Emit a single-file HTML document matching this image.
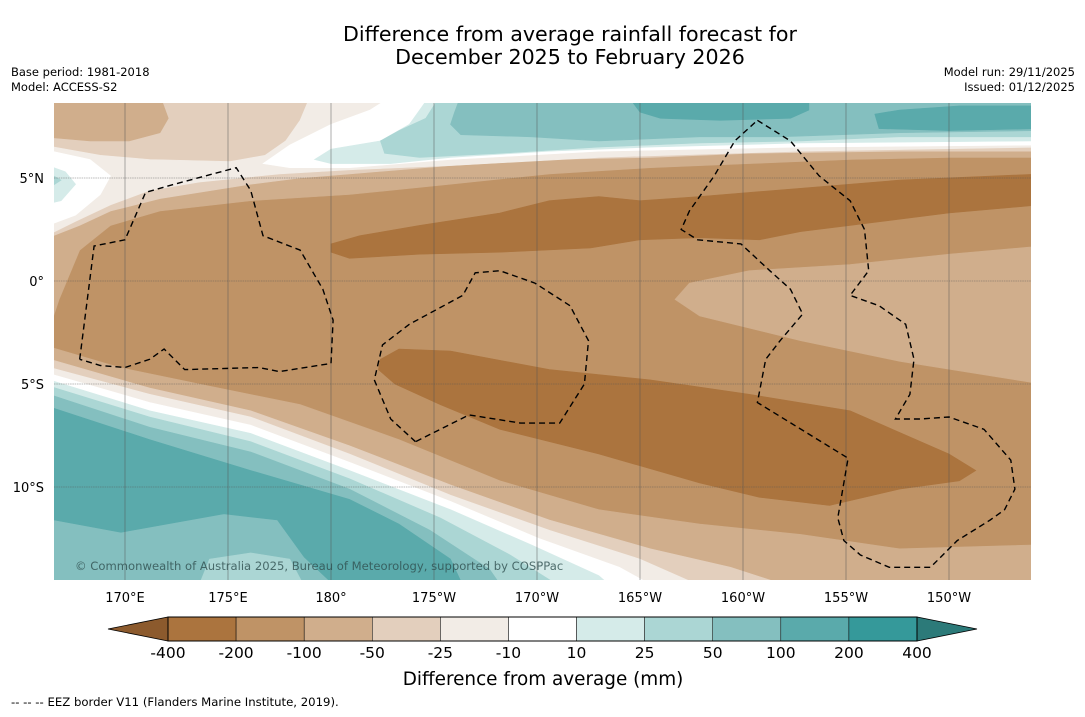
<!DOCTYPE html>
<html><head><meta charset="utf-8"><style>
html,body{margin:0;padding:0;background:#fff;}
body{width:1085px;height:713px;overflow:hidden;font-family:"DejaVu Sans","Liberation Sans",sans-serif;}
</style></head><body>
<svg id="fig" width="1085" height="713" viewBox="0 0 1085 713" xmlns="http://www.w3.org/2000/svg" font-family="DejaVu Sans, Liberation Sans, sans-serif">
  <text x="570" y="41" font-size="20.6" text-anchor="middle" fill="#000">Difference from average rainfall forecast for</text>
  <text x="570" y="64" font-size="20.6" text-anchor="middle" fill="#000">December 2025 to February 2026</text>
  <text x="11" y="76" font-size="11.5" fill="#000">Base period: 1981-2018</text>
  <text x="11" y="91" font-size="11.5" fill="#000">Model: ACCESS-S2</text>
  <text x="1075" y="76" font-size="11.5" text-anchor="end" fill="#000">Model run: 29/11/2025</text>
  <text x="1075" y="91" font-size="11.5" text-anchor="end" fill="#000">Issued: 01/12/2025</text>
  <defs><clipPath id="mapclip"><rect x="54" y="103" width="977" height="477"/></clipPath></defs>
  <g id="map" clip-path="url(#mapclip)"></g>
  <g id="axes"></g>
  <g id="cbar"></g>
  <text x="543" y="685" font-size="18.4" text-anchor="middle" fill="#000">Difference from average (mm)</text>
  <text x="11" y="706" font-size="11.7" fill="#000">--  --  -- EEZ border V11 (Flanders Marine Institute, 2019).</text>
</svg>
<script>
// ---- data ----
const levels = [-400,-200,-100,-50,-25,-10,10,25,50,100,200,400];
const levelLabels = ["-400","-200","-100","-50","-25","-10","10","25","50","100","200","400"];
const bandColors = ["#ab743e","#bf9366","#d0ae8c","#e3cfbd","#f2ece6","#ffffff","#d5ebe9","#abd6d4","#84bfbf","#5aaaab","#35999a"];
const extendLow = "#8c5a2d", extendHigh = "#2c7a79";
const lonTicks = [170,175,180,185,190,195,200,205,210];
const lonTickLabels = ["170°E","175°E","180°","175°W","170°W","165°W","160°W","155°W","150°W"];
const latTicks = [5,0,-5,-10];
const latTickLabels = ["5°N","0°","5°S","10°S"];
// filled contour regions: colour band index per ring, and [lon,lat] rings
const contourBand = [1,2,3,2,4,5,5,6,6,7,7,8,9,9,0,0,2,2,3,4,5,6,7,8,9,7];
const contourRings = [
 [[166,9],[214.5,9],[214.5,-15],[166,-15]],
 [[166,9],[214.5,9],[214.5,6.0],[210,6.0],[205.2,5.9],[200.3,5.7],[195.5,5.5],[190.6,5.2],[185.8,4.7],[180.9,4.2],[176.1,3.9],[171.7,3.4],[169.3,2.7],[167.8,1.5],[166.8,-0.9],[166,-3.3]],
 [[166,9],[214.5,9],[214.5,6.3],[207.6,6.3],[200.3,6.2],[195.5,6.0],[190.6,5.9],[185.8,5.6],[180.9,5.2],[178.5,5.0],[176.1,4.7],[171.7,4.0],[169.3,3.4],[167.8,2.7],[166,2.0]],
 [[166,9],[171.7,9],[172.1,7.9],[171.7,7.2],[170.2,6.8],[168.3,6.8],[166,7.0]],
 [[179.3,9],[214.5,9],[214.5,6.5],[202.8,6.3],[193,6.0],[185.8,5.6],[180.9,5.4],[177.5,5.2],[173.6,4.8],[171.2,4.4],[169.3,3.7],[167.6,2.9],[166,2.1],[166,6.6],[168.8,6.1],[171.2,5.9],[175.1,5.8],[176.8,6.1],[177.8,6.8],[178.5,7.8],[179,9]],
 [[183,9],[214.5,9],[214.5,6.6],[202.8,6.5],[193,6.3],[185.8,5.9],[180.9,5.5],[178,5.5],[176.7,5.7],[178,6.6],[180,7.6],[181.9,8.3]],
 [[166,6.4],[168.3,5.9],[169.3,5.1],[168.8,4.2],[167.6,3.2],[166,2.6]],
 [[184.8,9],[214.5,9],[214.5,6.8],[202.8,6.7],[195.5,6.5],[190.6,6.3],[185.8,6.0],[182.9,5.7],[180,5.7],[179.2,5.9],[180,6.4],[182.4,6.8],[183.8,7.6],[184.3,8.3]],
 [[166,5.7],[167.1,5.3],[167.6,4.7],[166.9,3.9],[166,3.7]],
 [[185.3,9],[214.5,9],[214.5,7.0],[207.6,7.0],[202.8,6.8],[197.9,6.7],[193,6.5],[188.2,6.2],[184.3,6.0],[182.6,6.2],[182.4,6.8],[183.3,7.3],[184.6,7.9]],
 [[166,5.4],[166.9,4.9],[166,4.3]],
 [[186.3,9],[214.5,9],[214.5,7.3],[207.6,7.2],[201.8,7.0],[197.9,7.0],[193,6.8],[189.7,7.0],[186.3,7.1],[185.8,7.6],[186,8.2]],
 [[194.4,9],[203.2,9],[203.2,8.3],[202.3,7.9],[198.9,7.8],[196,7.9],[195,8.2]],
 [[206.6,7.4],[206.4,8.1],[207.6,8.3],[210.5,8.5],[214.5,8.5],[214.5,7.4],[210,7.3]],
 [[180,1.8],[181.4,2.2],[184.3,2.7],[188.2,3.3],[190.6,3.9],[193,4.1],[195,3.9],[197.9,4.1],[202.8,4.5],[207.6,4.9],[214.5,5.2],[214.5,3.7],[210,3.3],[205.2,2.7],[202.8,2.4],[200.8,2.0],[197.9,2.1],[195,2.0],[192.6,1.6],[188.2,1.4],[184.3,1.3],[180.9,1.1],[180,1.4]],
 [[182.4,-3.8],[183.3,-3.3],[185.8,-3.4],[190.6,-4.3],[195.5,-4.8],[200.3,-5.5],[205.2,-6.3],[210,-8.4],[211.3,-9.2],[210.5,-9.7],[207.6,-10.1],[204.2,-10.9],[200.8,-10.5],[197.9,-9.8],[193,-8.4],[188.2,-7.2],[185.3,-6.0],[183.1,-5.0],[182.3,-4.3]],
 [[214.5,1.7],[210,1.3],[205.2,0.8],[200.3,0.5],[197.4,-0.1],[196.7,-0.9],[197.9,-1.7],[202.8,-2.9],[207.6,-3.9],[214.5,-5.0]],
 [[166,-3.1],[169.75,-4.2],[173.6,-5.0],[178.5,-6.0],[183.3,-7.7],[188.2,-9.7],[193,-11.1],[197.9,-11.8],[202.8,-12.3],[207.6,-13.0],[214.5,-12.8],[214.5,-15],[166,-15]],
 [[166,-3.7],[171.2,-5.2],[176.1,-6.3],[180.9,-8.0],[185.8,-9.9],[190.6,-11.6],[195.5,-13.0],[199.4,-13.9],[202.8,-15],[166,-15]],
 [[166,-4.1],[171.2,-5.5],[176.1,-6.6],[180.9,-8.4],[185.8,-10.4],[190.6,-12.1],[195,-13.5],[198.4,-15],[166,-15]],
 [[166,-4.4],[171.2,-5.9],[176.1,-7.0],[180.9,-8.8],[185.8,-10.7],[190.1,-12.5],[194,-13.9],[196,-15],[166,-15]],
 [[166,-4.7],[171.2,-6.3],[176.1,-7.4],[180.9,-9.2],[185.8,-11.1],[189.7,-12.8],[193,-14.3],[193.8,-15],[166,-15]],
 [[166,-5.0],[171.2,-6.6],[176.1,-7.8],[180.9,-9.6],[185.3,-11.5],[188.7,-13.3],[191.4,-15],[166,-15]],
 [[166,-5.4],[171.2,-7.1],[176.1,-8.3],[180.9,-10.1],[184.8,-12.1],[187.7,-14.0],[188.4,-15],[166,-15]],
 [[166,-6.0],[171.2,-7.7],[176.1,-9.2],[180.9,-10.6],[183.3,-11.8],[185.8,-13.5],[186.5,-15],[180.4,-15],[178.7,-13.4],[177.4,-11.6],[174.8,-11.3],[169.8,-12.2],[166,-11.5]],
 [[173.5,-15],[174.1,-13.5],[176.1,-13.2],[178,-13.5],[178.8,-15]]
];
const eezBorders = [
 [[167.8,-3.8],[168.5,1.7],[170,2.0],[171,4.3],[172.4,4.7],[175.4,5.5],[176.1,4.4],[176.7,2.2],[178.5,1.5],[179.6,-0.4],[180.1,-1.9],[180,-4.0],[177.5,-4.4],[176.5,-4.2],[172.9,-4.3],[171.9,-3.3],[171.2,-3.8],[170,-4.2],[168.8,-4.1],[167.8,-3.8]],
 [[184.1,-7.8],[182.9,-6.7],[182.1,-4.8],[182.5,-3.1],[183.8,-2.1],[186.4,-0.7],[187,0.4],[188.2,0.5],[189.9,-0.1],[191.6,-1.2],[192.5,-2.9],[192.3,-5.0],[191.1,-6.9],[189.2,-6.9],[186.7,-6.5],[184.1,-7.8]],
 [[200.7,7.8],[202.3,6.8],[203.7,5.1],[205.2,3.9],[205.9,2.5],[206.1,0.5],[205.2,-0.7],[206.6,-1.2],[207.9,-2.1],[208.3,-3.8],[208.1,-5.5],[207.4,-6.7],[208.6,-6.7],[210,-6.6],[211.7,-7.2],[213,-8.7],[213.2,-10.1],[212.7,-11.1],[212,-11.6],[210.4,-12.6],[209.1,-13.9],[207.1,-13.9],[205.7,-13.3],[204.9,-12.6],[204.6,-11.5],[205.1,-8.6],[200.7,-5.9],[201.1,-3.8],[201.8,-2.9],[202.9,-1.6],[202.3,-0.4],[201.3,0.5],[199.9,1.8],[197.8,2.0],[197,2.5],[197.4,3.4],[198.6,5.1],[199.6,6.8],[200.7,7.8]]
];
// ---- axis functions ----
const X0=54, X1=1031, Y0=103, Y1=580;
function xOf(lon){ return 125 + (lon-170)*20.6; }
function yOf(lat){ return 281 - lat*20.6; }
const NS="http://www.w3.org/2000/svg";
function mk(tag, attrs, parent){ const e=document.createElementNS(NS,tag); for(const k in attrs) e.setAttribute(k,attrs[k]); parent.appendChild(e); return e; }
function ringPath(r){ return r.map((p,i)=>(i?'L':'M')+xOf(p[0]).toFixed(1)+','+yOf(p[1]).toFixed(1)).join('')+'Z'; }

const map=document.getElementById('map');
contourRings.forEach((r,i)=>{
  const c=bandColors[contourBand[i]];
  const p=mk('path',{d:ringPath(r),fill:c,stroke:c,'stroke-width':0.6},map);
  
  
});
lonTicks.forEach(lon=>{
  const l=mk('line',{x1:xOf(lon),x2:xOf(lon),y1:Y0,y2:Y1,stroke:'#555','stroke-width':0.6,'stroke-opacity':0.8},map);
  
  
});
latTicks.forEach(lat=>{
  const l=mk('line',{x1:X0,x2:X1,y1:yOf(lat),y2:yOf(lat),stroke:'#555','stroke-width':0.6,'stroke-opacity':0.8,'stroke-dasharray':'1.5,0.8'},map);
  
  
});
eezBorders.forEach(r=>{
  const p=mk('path',{d:r.map((q,i)=>(i?'L':'M')+xOf(q[0]).toFixed(1)+','+yOf(q[1]).toFixed(1)).join(''),fill:'none',stroke:'#000','stroke-width':1.4,'stroke-dasharray':'6,4'},map);
  
  
});
const cp=mk('text',{x:75,y:570,'font-size':11.6,fill:'#2f4f4f','fill-opacity':0.8},map);
cp.textContent='© Commonwealth of Australia 2025, Bureau of Meteorology, supported by COSPPac';



const axes=document.getElementById('axes');
lonTicks.forEach((lon,i)=>{
  const t=mk('text',{x:xOf(lon),y:602,'font-size':13,'text-anchor':'middle',fill:'#000'},axes);
  t.textContent=lonTickLabels[i];
  
  
});
latTicks.forEach((lat,i)=>{
  const t=mk('text',{x:44,y:yOf(lat)+5,'font-size':13,'text-anchor':'end',fill:'#000'},axes);
  t.textContent=latTickLabels[i];
  
  
});

// colorbar
const cb=document.getElementById('cbar');
const CB0=168, CB1=917, CBY=617, CBH=24;
const bw=(CB1-CB0)/(levels.length-1);
function cbX(i){ return CB0 + i*bw; }
const lt=mk('polygon',{points:`${CB0},${CBY} ${CB0},${CBY+CBH} 108,${CBY+CBH/2}`,fill:extendLow,stroke:'#000','stroke-width':0.8},cb);


const rt=mk('polygon',{points:`${CB1},${CBY} ${CB1},${CBY+CBH} 977,${CBY+CBH/2}`,fill:extendHigh,stroke:'#000','stroke-width':0.8},cb);


bandColors.forEach((c,i)=>{
  const r=mk('rect',{x:cbX(i),y:CBY,width:bw,height:CBH,fill:c,stroke:'#000','stroke-width':0.5},cb);
  
  
});
mk('rect',{x:CB0,y:CBY,width:CB1-CB0,height:CBH,fill:'none',stroke:'#000','stroke-width':1},cb);
levels.forEach((v,i)=>{
  const t=mk('text',{x:cbX(i),y:658,'font-size':15.5,'text-anchor':'middle',fill:'#000'},cb);
  t.textContent=levelLabels[i];
  
  
});
</script>
</body></html>
